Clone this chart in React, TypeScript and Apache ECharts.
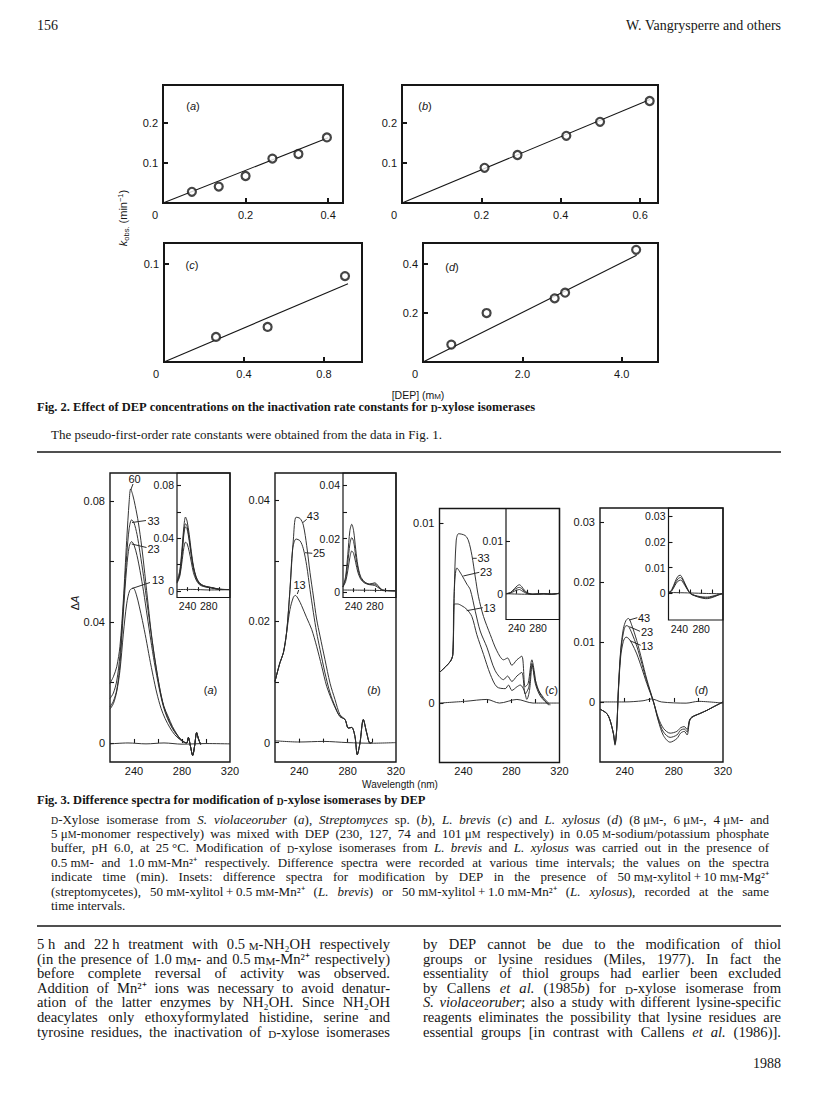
import React, { useEffect, useRef } from 'react';
import * as echarts from 'echarts';

/* ================= Fig. 2 data (k_obs vs [DEP]) ================= */
const fig2aDEP = [0.07, 0.135, 0.2, 0.265, 0.328, 0.397];
const fig2aKobs = [0.028, 0.041, 0.0675, 0.111, 0.1225, 0.164];
const fig2aFit = [[0, 0], [0.4, 0.163]];
const fig2bDEP = [0.208, 0.291, 0.414, 0.499, 0.624];
const fig2bKobs = [0.088, 0.12, 0.168, 0.203, 0.255];
const fig2bFit = [[0, 0], [0.625, 0.259]];
const fig2cDEP = [0.26, 0.518, 0.905];
const fig2cKobs = [0.0256, 0.0358, 0.0877];
const fig2cFit = [[0, 0], [0.92, 0.08]];
const fig2dDEP = [0.57, 1.28, 2.65, 2.86, 4.29];
const fig2dKobs = [0.071, 0.2, 0.26, 0.283, 0.458];
const fig2dFit = [[0, 0], [4.3, 0.436]];

const fig2aXTicks = [0, 0.2, 0.4];
const fig2aYTicks = [0.1, 0.2];
const fig2bXTicks = [0, 0.2, 0.4, 0.6];
const fig2bYTicks = [0.1, 0.2];
const fig2cXTicks = [0, 0.4, 0.8];
const fig2cYTicks = [0.1];
const fig2dXTicks = [0, 2, 4];
const fig2dYTicks = [0.2, 0.4];

/* ================= Fig. 3 data ([wavelength nm, ΔA]) ================= */
const f3aT60 = [[220,0.0197],[222.8,0.0219],[225.6,0.0252],[228.3,0.032],[231.1,0.047],[233.9,0.067],[236,0.08],[237.2,0.084],[239,0.082],[241,0.0785],[243.6,0.073],[246.4,0.065],[249,0.056],[252,0.045],[254.5,0.036],[257.5,0.0275],[261.7,0.0175],[265,0.012],[268.6,0.0086],[272,0.0055],[275.6,0.003],[279,0.0012],[282,0.0003],[284,0],[285.3,0.0018],[287,-0.001],[288.9,-0.0041],[290.5,-0.001],[292.2,0.0034],[293.6,0.0015],[295.5,-0.0005]];
const f3aT33 = [[220,0.0147],[222.8,0.0165],[225.6,0.0205],[228.3,0.029],[231.1,0.045],[233.9,0.062],[236,0.071],[238,0.0738],[240,0.0728],[242.5,0.069],[245,0.063],[248,0.055],[251,0.046],[254,0.037],[257,0.0285],[261,0.019],[264.5,0.0125],[268,0.0085],[272,0.005],[275.6,0.0028],[279,0.0011],[282,0.0002],[284,0],[285.3,0.0018],[287,-0.001],[288.9,-0.0041],[290.5,-0.001],[292.2,0.0034],[293.6,0.0015],[295.5,-0.0005]];
const f3aT23 = [[220,0.0119],[222.8,0.0138],[225.6,0.0175],[228.3,0.026],[231.1,0.043],[233.9,0.058],[236,0.065],[238,0.0666],[240,0.0655],[242.5,0.062],[245,0.057],[248,0.05],[251,0.042],[254,0.034],[257,0.0265],[261,0.018],[264.5,0.012],[268,0.008],[272,0.0048],[275.6,0.0027],[279,0.001],[282,0.0002],[284,0],[285.3,0.0018],[287,-0.001],[288.9,-0.0041],[290.5,-0.001],[292.2,0.0034],[293.6,0.0015],[295.5,-0.0005]];
const f3aT13 = [[220,0.0112],[222.8,0.013],[225.6,0.017],[228.3,0.024],[231.1,0.036],[233.9,0.046],[236.5,0.0505],[239.4,0.0512],[242,0.049],[244.5,0.045],[247,0.0405],[250,0.0345],[253,0.028],[256,0.022],[259,0.0165],[262.5,0.0115],[266,0.008],[270,0.005],[274,0.0027],[278,0.0012],[282,0.0002],[284,0],[285.3,0.0018],[287,-0.001],[288.9,-0.0041],[290.5,-0.001],[292.2,0.0034],[293.6,0.0015],[295.5,-0.0005]];
const f3aBase = [[220,-0.0003],[235,0],[250,-0.0003],[265,0],[280,-0.0004],[300,-0.0002],[320,-0.0003]];
const f3aIns1 = [[220,0.008],[225,0.015],[229,0.03],[233,0.049],[236,0.056],[239,0.053],[243,0.043],[247,0.03],[251,0.019],[256,0.011],[262,0.0065],[270,0.0042],[280,0.0032],[290,0.0024],[300,0.0015],[320,0.0012]];
const f3aIns2 = [[220,0.007],[225,0.013],[229,0.027],[233,0.045],[236,0.051],[239,0.049],[243,0.04],[247,0.028],[251,0.018],[256,0.0105],[262,0.006],[270,0.004],[280,0.003],[290,0.0022],[300,0.0014],[320,0.0012]];
const f3aIns3 = [[220,0.0065],[225,0.012],[229,0.025],[233,0.043],[236,0.0485],[239,0.047],[243,0.038],[247,0.027],[251,0.017],[256,0.01],[262,0.0058],[270,0.0038],[280,0.0029],[290,0.0021],[300,0.0014],[320,0.0012]];
const f3aIns4 = [[220,0.006],[225,0.011],[229,0.021],[233,0.033],[236,0.037],[239,0.036],[243,0.03],[247,0.022],[251,0.014],[256,0.0085],[262,0.005],[270,0.0035],[280,0.0027],[290,0.002],[300,0.0013],[320,0.0012]];
const f3aInsBase = [[220,0.0012],[250,0.0013],[280,0.0009],[320,0.0011]];

const f3bT43 = [[220,0.0101],[224.1,0.0132],[226.9,0.0148],[229.6,0.0182],[232.4,0.0253],[235.2,0.0336],[237.4,0.0372],[240.7,0.037],[243.4,0.0359],[246.2,0.0325],[248.9,0.0281],[251.7,0.0242],[254.4,0.0204],[257.2,0.0176],[261.3,0.0137],[265.5,0.0098],[269.6,0.0071],[273.7,0.0046],[277.9,0.0038],[280.6,0.0024],[283.4,0.0025],[286.1,0.001],[288,-0.002],[290.2,-0.0001],[293,0.0038],[295.8,0.0016],[298.5,-0.0001],[300,0]];
const f3bT25 = [[220,0.0101],[224.1,0.0132],[226.9,0.0148],[229.6,0.0182],[232.4,0.0253],[234.6,0.032],[237.4,0.0336],[240.7,0.0333],[243.4,0.032],[246.2,0.0292],[248.9,0.0253],[251.7,0.0215],[254.4,0.0182],[257.2,0.0154],[261.3,0.0115],[265.5,0.0082],[269.6,0.006],[273.7,0.0043],[277.9,0.0038],[280.6,0.0024],[283.4,0.0025],[286.1,0.001],[288,-0.002],[290.2,-0.0001],[293,0.0038],[295.8,0.0016],[298.5,-0.0001],[300,0]];
const f3bT13 = [[220,0.0101],[224.1,0.0132],[226.9,0.0148],[229.6,0.0182],[232.4,0.022],[235.2,0.024],[236.8,0.0243],[239.3,0.0237],[242,0.0226],[246.2,0.0206],[250.3,0.0187],[254.4,0.0159],[258.6,0.0126],[262.7,0.0093],[266.8,0.0071],[271,0.0052],[273.7,0.0043],[277.9,0.0038],[280.6,0.0024],[283.4,0.0025],[286.1,0.001],[288,-0.002],[290.2,-0.0001],[293,0.0038],[295.8,0.0016],[298.5,-0.0001],[300,0]];
const f3bBase = [[220,0.0003],[240,0.0001],[260,0.0002],[280,0],[300,-0.0001],[320,0]];
const f3bIns1 = [[220,0.002],[225,0.006],[229,0.014],[233,0.023],[236.5,0.0254],[240,0.023],[244,0.016],[248,0.01],[253,0.006],[260,0.004],[270,0.003],[280,0.0035],[288,0.002],[295,0.0008],[320,0.0005]];
const f3bIns2 = [[220,0.002],[225,0.005],[229,0.011],[233,0.018],[236.5,0.0204],[240,0.019],[244,0.0135],[248,0.009],[253,0.0055],[260,0.0038],[270,0.003],[280,0.003],[288,0.0018],[295,0.0008],[320,0.0005]];
const f3bIns3 = [[220,0.002],[225,0.004],[229,0.008],[233,0.013],[236.5,0.0154],[240,0.0145],[244,0.011],[248,0.0075],[253,0.005],[260,0.0035],[270,0.0028],[280,0.0025],[288,0.0015],[295,0.0006],[320,0.0005]];
const f3bInsBase = [[220,0.0008],[270,0.0007],[320,0.0005]];

const f3cT33 = [[220,0.0017],[228.9,0.0023],[231.1,0.0027],[232.3,0.0062],[233.9,0.009],[235.9,0.0094],[241.4,0.0093],[244.2,0.009],[247,0.0082],[249.8,0.007],[252.5,0.0059],[256.7,0.0048],[262.3,0.0038],[267.8,0.0029],[273.4,0.0024],[276.7,0.0025],[280.3,0.0021],[284.5,0.0024],[288.6,0.0026],[291.4,0.0009],[293.9,0.0011],[297,0.0024],[298.9,0.0018],[301.1,0.0009],[306.7,0.0003],[312.3,-0.0001]];
const f3cT23 = [[220,0.0017],[228.9,0.0023],[231.1,0.0027],[232.3,0.0062],[234.5,0.0075],[238.6,0.0071],[242.8,0.0066],[245.6,0.0063],[249.8,0.0051],[253.9,0.004],[259.5,0.0031],[266.4,0.0018],[273.4,0.0013],[276.7,0.0015],[280.3,0.0012],[284.5,0.0015],[288.6,0.0017],[291.4,0.0005],[294.5,0.0009],[297,0.0022],[299.8,0.0013],[303.9,0.0005],[309.5,0],[311.7,-0.0001]];
const f3cT13 = [[220,0.0017],[228.9,0.0023],[231.1,0.0027],[232.3,0.0055],[235,0.0055],[238.6,0.0054],[242.8,0.0052],[247,0.0048],[251.1,0.0038],[256.7,0.0027],[262.3,0.0016],[267.8,0.0009],[274.8,0.0008],[277.5,0.001],[280.3,0.0007],[284.5,0.0009],[287.3,0.001],[290.6,0.0007],[292.8,0.0002],[295,0.0007],[297.3,0.0021],[299.8,0.0011],[303.9,0.0004],[310.9,-0.0001]];
const f3cBase = [[220,0],[242,0.0001],[259.5,0.0002],[270,0],[284.5,0.0002],[298,0],[320,0]];
const f3cIns1 = [[220,0],[228,0.0002],[236,0.001],[241,0.0015],[245,0.0017],[249,0.0014],[254,0.0007],[260,0.0002],[270,-0.0001],[290,0],[305,-0.0001],[320,0.0001]];
const f3cIns2 = [[220,0],[228,0.0002],[236,0.0008],[241,0.0011],[245,0.0012],[249,0.001],[254,0.0005],[260,0.0001],[270,-0.0001],[290,0],[305,-0.0001],[320,0.0001]];
const f3cIns3 = [[220,0],[228,0.0001],[236,0.0005],[241,0.0007],[245,0.0008],[249,0.0006],[254,0.0003],[260,0],[270,-0.0001],[290,0],[305,-0.0001],[320,0.0001]];
const f3cInsBase = [[220,0],[260,-0.0001],[320,0]];

const f3dT43 = [[220,-0.0012],[225.4,-0.0019],[228.1,-0.003],[230.9,-0.0053],[232.2,-0.0072],[233.6,-0.0045],[234.9,0.002],[236.8,0.0086],[239,0.0122],[241.2,0.0136],[243.1,0.0139],[245.8,0.0128],[249.9,0.0102],[254,0.007],[258,0.0038],[263.5,0],[267.5,-0.0032],[271.6,-0.0056],[277,-0.0067],[282.5,-0.0061],[285.5,-0.0052],[288.5,-0.0049],[290.8,-0.0055],[292.8,-0.0032],[294.7,-0.0026],[301.5,-0.0019],[306.9,-0.0014],[312.4,-0.0008],[320,0]];
const f3dT23 = [[220,-0.0012],[225.4,-0.0019],[228.1,-0.003],[230.9,-0.0053],[232.2,-0.007],[233.6,-0.0045],[234.9,0.0018],[236.8,0.0082],[239,0.0115],[241.2,0.0127],[243.1,0.0126],[245.8,0.0115],[249.9,0.0093],[254,0.0064],[258,0.0035],[263.5,0],[267.5,-0.003],[271.6,-0.005],[277,-0.0059],[282.5,-0.0055],[285.5,-0.0047],[288.5,-0.0045],[290.8,-0.005],[292.8,-0.0031],[294.7,-0.0025],[301.5,-0.0019],[306.9,-0.0014],[312.4,-0.0008],[320,0]];
const f3dT13 = [[220,-0.0012],[225.4,-0.0019],[228.1,-0.003],[230.9,-0.0052],[232.2,-0.0068],[233.6,-0.0045],[234.9,0.0015],[236.8,0.0075],[239,0.0101],[241.2,0.0108],[243.1,0.0106],[245.8,0.0098],[249.9,0.008],[254,0.0056],[258,0.0031],[263.5,0],[267.5,-0.0027],[271.6,-0.0044],[277,-0.0052],[282.5,-0.0049],[285.5,-0.0043],[288.5,-0.0041],[290.8,-0.0046],[292.8,-0.003],[294.7,-0.0025],[301.5,-0.0019],[306.9,-0.0014],[312.4,-0.0008],[320,0]];
const f3dBase = [[220,0],[240,0],[255,0.0002],[262,0.0005],[270,0],[290,-0.0002],[300,0.0001],[320,-0.0002]];
const f3dIns1 = [[220,0.0002],[226,0.0015],[232,0.0045],[237,0.0066],[241.5,0.0071],[245,0.0062],[250,0.004],[255,0.0018],[260,0],[268,-0.0009],[278,-0.0016],[288,-0.002],[295,-0.0019],[305,-0.0012],[312,-0.0006],[320,0]];
const f3dIns2 = [[220,0.0002],[226,0.0012],[232,0.0038],[237,0.0056],[242,0.0062],[245,0.0056],[250,0.0036],[255,0.0016],[260,0],[268,-0.0008],[278,-0.0014],[288,-0.0017],[295,-0.0016],[305,-0.001],[312,-0.0005],[320,0]];
const f3dIns3 = [[220,0.0002],[226,0.001],[232,0.0032],[237,0.0047],[242,0.0052],[245,0.0048],[250,0.0031],[255,0.0014],[260,0],[268,-0.0007],[278,-0.0012],[288,-0.0014],[295,-0.0013],[305,-0.0008],[312,-0.0004],[320,0]];
const f3dInsBase = [[220,0.0004],[260,0.0002],[290,0],[320,-0.0001]];

const f3XLabels = [240, 280, 320];
const f3XTicks = [240, 260, 280, 300];
const f3InsXLabels = [240, 280];
const f3aYLabels = [0, 0.04, 0.08];
const f3aYTicks = [0, 0.02, 0.04, 0.06, 0.08];
const f3bYLabels = [0, 0.02, 0.04];
const f3bYTicks = [0, 0.01, 0.02, 0.03, 0.04];
const f3cYLabels = [0, 0.01];
const f3dYLabels = [0, 0.01, 0.02, 0.03];

/* ================= text ================= */
const fig2Title = 'Fig. 2. Effect of DEP concentrations on the inactivation rate constants for {sc|D}-xylose isomerases';
const fig2Note = 'The pseudo-first-order rate constants were obtained from the data in Fig. 1.';
const fig3Title = 'Fig. 3. Difference spectra for modification of {sc|D}-xylose isomerases by DEP';
const fig3Legend = [
  '{sc|D}-Xylose isomerase from {i|S. violaceoruber} ({i|a}), {i|Streptomyces} sp. ({i|b}), {i|L. brevis} ({i|c}) and {i|L. xylosus} ({i|d}) (8\u00a0μ{sc|M}-, 6\u00a0μ{sc|M}-, 4\u00a0μ{sc|M}- and',
  '5\u00a0μ{sc|M}-monomer respectively) was mixed with DEP (230, 127, 74 and 101\u00a0μ{sc|M} respectively) in 0.05\u00a0{sc|M}-sodium/potassium phosphate',
  'buffer, pH 6.0, at 25\u00a0°C. Modification of {sc|D}-xylose isomerases from {i|L. brevis} and {i|L. xylosus} was carried out in the presence of',
  '0.5\u00a0m{sc|M}- and 1.0\u00a0m{sc|M}-Mn²⁺ respectively. Difference spectra were recorded at various time intervals; the values on the spectra',
  'indicate time (min). Insets: difference spectra for modification by DEP in the presence of 50\u00a0m{sc|M}-xylitol\u2009+\u200910\u00a0m{sc|M}-Mg²⁺',
  '(streptomycetes), 50\u00a0m{sc|M}-xylitol\u2009+\u20090.5\u00a0m{sc|M}-Mn²⁺ ({i|L. brevis}) or 50\u00a0m{sc|M}-xylitol\u2009+\u20091.0\u00a0m{sc|M}-Mn²⁺ ({i|L. xylosus}), recorded at the same',
  'time intervals.',
];
const bodyCol1 = [
  '5\u00a0h and 22\u00a0h treatment with 0.5\u00a0{sc|M}-NH₂OH respectively',
  '(in the presence of 1.0\u00a0m{sc|M}- and 0.5\u00a0m{sc|M}-Mn²⁺ respectively)',
  'before complete reversal of activity was observed.',
  'Addition of Mn²⁺ ions was necessary to avoid denatur-',
  'ation of the latter enzymes by NH₂OH. Since NH₂OH',
  'deacylates only ethoxyformylated histidine, serine and',
  'tyrosine residues, the inactivation of {sc|D}-xylose isomerases',
];
const bodyCol2 = [
  'by DEP cannot be due to the modification of thiol',
  'groups or lysine residues (Miles, 1977). In fact the',
  'essentiality of thiol groups had earlier been excluded',
  'by Callens {i|et al.} (1985{i|b}) for {sc|D}-xylose isomerase from',
  '{i|S. violaceoruber}; also a study with different lysine-specific',
  'reagents eliminates the possibility that lysine residues are',
  'essential groups [in contrast with Callens {i|et al.} (1986)].',
];

const SANS = '"Liberation Sans", Arial, Helvetica, sans-serif';
const SERIF = '"Liberation Serif", "Times New Roman", Times, serif';
const INK = '#161616';
const CURVE = '#2a2a2a';
const LM = 37; // page text block
const RM = 781;

let mctx: CanvasRenderingContext2D | null = null;
function textWidth(t: string, font: string): number {
  if (!mctx) mctx = document.createElement('canvas').getContext('2d');
  mctx!.font = font;
  return mctx!.measureText(t).width;
}
type Seg = { t: string; s: string };
function parseMarkup(line: string): Seg[] {
  const segs: Seg[] = [];
  const re = /\{(\w+)\|([^}]*)\}/g;
  let last = 0;
  let m: RegExpExecArray | null;
  while ((m = re.exec(line))) {
    if (m.index > last) segs.push({ t: line.slice(last, m.index), s: 'n' });
    segs.push({ t: m[2], s: m[1] });
    last = re.lastIndex;
  }
  if (last < line.length) segs.push({ t: line.slice(last), s: 'n' });
  return segs;
}
function splitWords(segs: Seg[]): Seg[][] {
  const out: Seg[][] = [];
  let cur: Seg[] = [];
  segs.forEach((sg) => {
    sg.t.split(' ').forEach((p, i) => {
      if (i > 0) {
        if (cur.length) out.push(cur);
        cur = [];
      }
      if (p) cur.push({ t: p, s: sg.s });
    });
  });
  if (cur.length) out.push(cur);
  return out;
}
function serifRich(fs: number, weight: string) {
  const base: any = { fontFamily: SERIF, fontSize: fs, fontWeight: weight, fontStyle: 'normal', fill: INK, verticalAlign: 'bottom' };
  return { n: base, i: { ...base, fontStyle: 'italic' }, sc: { ...base, fontSize: +(fs * 0.76).toFixed(1) } } as any;
}
const cssFont = (st: any) => `${st.fontStyle} ${st.fontWeight} ${st.fontSize}px ${SERIF}`;

function proseLine(line: string, x0: number, x1: number | null, y: number, fs0: number, weight = 'normal', align = 'left'): any[] {
  const ws = splitWords(parseMarkup(line));
  const measureAll = (fs: number) => {
    const rich = serifRich(fs, weight);
    const widths = ws.map((w) => w.reduce((a, sg) => a + textWidth(sg.t, cssFont(rich[sg.s] || rich.n)), 0));
    return { rich, widths, total: widths.reduce((a, b) => a + b, 0), space: textWidth(' ', cssFont(rich.n)) };
  };
  let fs = fs0;
  let m = measureAll(fs);
  if (x1 != null && ws.length > 1) {
    const need = m.total + (ws.length - 1) * fs * 0.2;
    if (need > x1 - x0) {
      fs = +(fs * (x1 - x0) / need).toFixed(2);
      m = measureAll(fs);
    }
  }
  let gap = m.space;
  if (x1 != null && ws.length > 1) gap = (x1 - x0 - m.total) / (ws.length - 1);
  let x = align === 'right' ? x0 - (m.total + m.space * (ws.length - 1)) : x0;
  const els: any[] = [];
  ws.forEach((w, k) => {
    els.push({
      type: 'text', x, y, silent: true,
      style: { text: w.map((sg) => `{${sg.s}|${sg.t}}`).join(''), rich: m.rich, align: 'left', verticalAlign: 'middle' },
    });
    x += m.widths[k] + gap;
  });
  return els;
}

function sansText(text: string, x: number, y: number, fs: number, align = 'center', extra: any = {}, rotation = 0): any {
  const base = { fontFamily: SANS, fontSize: fs, fill: INK, verticalAlign: 'middle' };
  return {
    type: 'text', x, y, rotation, silent: true,
    style: {
      text, align, verticalAlign: 'middle', fontFamily: SANS, fontSize: fs, fill: INK,
      rich: { n: base, i: { ...base, fontStyle: 'italic' }, ...extra },
    },
  };
}
const seg = (x1: number, y1: number, x2: number, y2: number, w = 0.9): any => ({
  type: 'line', silent: true, shape: { x1, y1, x2, y2 }, style: { stroke: INK, lineWidth: w },
});

const zip = (xs: number[], ys: number[]) => xs.map((x, i) => [x, ys[i]]);

function buildOption() {
  const grids = [
    { left: 163, top: 85, width: 180, height: 118, bw: 2 },
    { left: 402, top: 85, width: 256, height: 118, bw: 2 },
    { left: 164, top: 243, width: 198, height: 119, bw: 2 },
    { left: 423, top: 243, width: 235, height: 119, bw: 2 },
    { left: 110, top: 473, width: 120, height: 289, bw: 1.4 },
    { left: 177, top: 473, width: 53, height: 124.5, bw: 1.2 },
    { left: 275, top: 473, width: 121, height: 289, bw: 1.4 },
    { left: 343, top: 473, width: 53, height: 124.5, bw: 1.2 },
    { left: 439.5, top: 508.5, width: 120, height: 254, bw: 1.4 },
    { left: 506, top: 508.5, width: 53.5, height: 111, bw: 1.2 },
    { left: 600, top: 508, width: 123, height: 254, bw: 1.4 },
    { left: 668.5, top: 508, width: 54.5, height: 112, bw: 1.2 },
  ];
  const f2fmt = (d: number) => (v: number) => (v === 0 ? '{z|0}' : v.toFixed(d));
  const zRich = { z: { padding: [0, 16, 0, 0], fontFamily: SANS, fontSize: 11, color: INK } };
  type AxSpec = { min: number; max: number; labels: number[]; ticks: number[]; fmt?: any; rich?: any };
  const axes: { x: AxSpec; y: AxSpec; kind: string }[] = [
    { kind: 'f2', x: { min: 0, max: 0.436, labels: fig2aXTicks, ticks: fig2aXTicks.slice(1), fmt: f2fmt(1), rich: zRich }, y: { min: 0, max: 0.295, labels: fig2aYTicks, ticks: fig2aYTicks } },
    { kind: 'f2', x: { min: 0, max: 0.645, labels: fig2bXTicks, ticks: fig2bXTicks.slice(1), fmt: f2fmt(1), rich: zRich }, y: { min: 0, max: 0.295, labels: fig2bYTicks, ticks: fig2bYTicks } },
    { kind: 'f2', x: { min: 0, max: 0.99, labels: fig2cXTicks, ticks: fig2cXTicks.slice(1), fmt: f2fmt(1), rich: zRich }, y: { min: 0, max: 0.1215, labels: fig2cYTicks, ticks: fig2cYTicks } },
    { kind: 'f2', x: { min: 0, max: 4.73, labels: fig2dXTicks, ticks: fig2dXTicks.slice(1), fmt: f2fmt(1), rich: zRich }, y: { min: 0, max: 0.486, labels: fig2dYTicks, ticks: fig2dYTicks } },
    { kind: 'f3', x: { min: 220, max: 320, labels: f3XLabels, ticks: f3XTicks }, y: { min: -0.0063, max: 0.0893, labels: f3aYLabels, ticks: f3aYTicks } },
    { kind: 'in', x: { min: 220, max: 320, labels: f3InsXLabels, ticks: f3XTicks }, y: { min: -0.0048, max: 0.0893, labels: f3aYLabels, ticks: f3aYTicks } },
    { kind: 'f3', x: { min: 220, max: 320, labels: f3XLabels, ticks: f3XTicks }, y: { min: -0.0032, max: 0.0445, labels: f3bYLabels, ticks: f3bYTicks } },
    { kind: 'in', x: { min: 220, max: 320, labels: f3InsXLabels, ticks: f3XTicks }, y: { min: -0.002, max: 0.0446, labels: f3bYLabels, ticks: f3bYTicks } },
    { kind: 'f3', x: { min: 220, max: 320, labels: f3XLabels, ticks: f3XTicks }, y: { min: -0.0033, max: 0.0108, labels: f3cYLabels, ticks: f3cYLabels } },
    { kind: 'in', x: { min: 220, max: 320, labels: f3InsXLabels, ticks: f3XTicks }, y: { min: -0.0049, max: 0.0162, labels: f3cYLabels, ticks: f3cYLabels } },
    { kind: 'f3', x: { min: 220, max: 320, labels: f3XLabels, ticks: f3XTicks }, y: { min: -0.01, max: 0.0323, labels: f3dYLabels, ticks: f3dYLabels } },
    { kind: 'in', x: { min: 220, max: 320, labels: f3InsXLabels, ticks: f3XTicks }, y: { min: -0.0103, max: 0.0332, labels: f3dYLabels, ticks: f3dYLabels } },
  ];
  const mk = (dim: string, gi: number, s: AxSpec, kind: string) => {
    const f2 = kind === 'f2';
    return {
      type: 'value', gridIndex: gi, min: s.min, max: s.max,
      splitLine: { show: false }, axisLine: { show: false },
      axisTick: { show: true, inside: true, length: f2 ? 5 : 4, lineStyle: { color: INK, width: f2 ? 2 : 1.1 }, customValues: s.ticks },
      axisLabel: {
        show: true, customValues: s.labels, hideOverlap: false,
        margin: dim === 'x' ? (f2 ? 6 : 3) : (f2 ? 5 : kind === 'in' ? 3 : 5),
        fontFamily: SANS, fontSize: kind === 'in' ? 10.5 : 11, color: INK,
        formatter: s.fmt, rich: s.rich,
      },
    };
  };
  const xAxis = axes.map((a, i) => mk('x', i, a.x, a.kind));
  const yAxis = axes.map((a, i) => mk('y', i, a.y, a.kind));

  const series: any[] = [];
  const f2sets = [
    { pts: zip(fig2aDEP, fig2aKobs), fit: fig2aFit },
    { pts: zip(fig2bDEP, fig2bKobs), fit: fig2bFit },
    { pts: zip(fig2cDEP, fig2cKobs), fit: fig2cFit },
    { pts: zip(fig2dDEP, fig2dKobs), fit: fig2dFit },
  ];
  f2sets.forEach((p, i) => {
    series.push({ type: 'line', xAxisIndex: i, yAxisIndex: i, data: p.fit, symbol: 'none', silent: true, z: 2, lineStyle: { color: INK, width: 1.1 } });
    series.push({ type: 'scatter', xAxisIndex: i, yAxisIndex: i, data: p.pts, symbol: 'circle', symbolSize: 8, silent: true, z: 3, itemStyle: { color: '#fff', borderColor: INK, borderWidth: 2.2 } });
  });
  const curves: [number, number[][]][] = [
    [4, f3aT60], [4, f3aT33], [4, f3aT23], [4, f3aT13], [4, f3aBase],
    [5, f3aIns1], [5, f3aIns2], [5, f3aIns3], [5, f3aIns4], [5, f3aInsBase],
    [6, f3bT43], [6, f3bT25], [6, f3bT13], [6, f3bBase],
    [7, f3bIns1], [7, f3bIns2], [7, f3bIns3], [7, f3bInsBase],
    [8, f3cT33], [8, f3cT23], [8, f3cT13], [8, f3cBase],
    [9, f3cIns1], [9, f3cIns2], [9, f3cIns3], [9, f3cInsBase],
    [10, f3dT43], [10, f3dT23], [10, f3dT13], [10, f3dBase],
    [11, f3dIns1], [11, f3dIns2], [11, f3dIns3], [11, f3dInsBase],
  ];
  curves.forEach(([gi, data]) => {
    series.push({ type: 'line', xAxisIndex: gi, yAxisIndex: gi, data, symbol: 'none', smooth: 0.3, silent: true, lineStyle: { color: CURVE, width: 0.95 } });
  });

  const g: any[] = [];
  // page header
  g.push(...proseLine('156', LM, null, 25, 14));
  g.push(...proseLine('W. Vangrysperre and others', RM, null, 25, 14, 'normal', 'right'));
  // Fig. 2 labels
  g.push(sansText('({i|a})', 193, 106, 11), sansText('({i|b})', 425, 106, 11), sansText('({i|c})', 192, 265, 11), sansText('({i|d})', 452, 267, 11));
  g.push(sansText('{i|k}{s|obs.} (min{p|−1})', 123, 218, 11, 'center', {
    n: { fontFamily: SANS, fontSize: 11, fill: INK, verticalAlign: 'middle', lineHeight: 14 },
    i: { fontFamily: SANS, fontSize: 11, fill: INK, fontStyle: 'italic', verticalAlign: 'middle', lineHeight: 14 },
    s: { fontFamily: SANS, fontSize: 7.5, fill: INK, verticalAlign: 'bottom', lineHeight: 14 },
    p: { fontFamily: SANS, fontSize: 7.5, fill: INK, verticalAlign: 'top', lineHeight: 14 },
  }, Math.PI / 2));
  g.push(sansText('[DEP] (m{sc|M})', 418, 395, 10.5, 'center', { sc: { fontFamily: SANS, fontSize: 8, fill: INK, verticalAlign: 'bottom' } }));
  g.push(...proseLine(fig2Title, LM, null, 407, 12.5, 'bold'));
  g.push(...proseLine(fig2Note, LM + 14, null, 434, 13));
  g.push(seg(LM, 452, RM, 452, 1.6));
  // Fig. 3 labels
  g.push(sansText('{n|Δ}{i|A}', 75, 603, 11, 'center', {}, Math.PI / 2));
  g.push(sansText('Wavelength (nm)', 400, 784, 10));
  g.push(sansText('({i|a})', 210.5, 689.5, 11), sansText('({i|b})', 374, 689.5, 11), sansText('({i|c})', 551.5, 689.5, 11), sansText('({i|d})', 701.5, 690, 11));
  const ann: [string, number, number, number[]][] = [
    ['60', 128.5, 478.5, [130.7, 490, 133, 484]],
    ['33', 147.5, 520.7, [132, 522.5, 146, 520.5]],
    ['23', 147.5, 548.5, [131.7, 544, 146.5, 547.5]],
    ['13', 152, 580, [132, 588.5, 150, 582.5]],
    ['43', 306.8, 516, [302.7, 522.7, 306.7, 519.3]],
    ['25', 313, 553.3, [305, 552.7, 312.3, 553.3]],
    ['13', 293.5, 585, [297.3, 594, 298.7, 590]],
    ['33', 477.5, 558.3, [472.7, 558.3, 476.7, 558.3]],
    ['23', 480, 571.7, [463.3, 576, 479.3, 572.3]],
    ['13', 483.5, 608.3, [466.7, 610.7, 482.7, 607.7]],
    ['43', 638, 617.7, [629.3, 620, 637.3, 617.7]],
    ['23', 641, 631.7, [629.3, 626.7, 640, 631.3]],
    ['13', 641, 645.7, [630, 640.7, 640.7, 645.3]],
  ];
  ann.forEach(([t, x, y, l]) => {
    g.push(sansText(t, x, y, 11, 'left'));
    g.push(seg(l[0], l[1], l[2], l[3], 0.9));
  });
  g.push(...proseLine(fig3Title, LM, null, 800, 12.5, 'bold'));
  fig3Legend.forEach((ln, i) => {
    const last = i === fig3Legend.length - 1;
    g.push(...proseLine(ln, LM + 14, last ? null : RM - 12, 819 + i * 14.4, 13));
  });
  g.push(seg(LM, 926, RM, 926, 1.6));
  bodyCol1.forEach((ln, i) => g.push(...proseLine(ln, LM, 390, 944 + i * 14.6, 14.6)));
  bodyCol2.forEach((ln, i) => g.push(...proseLine(ln, 423, RM, 944 + i * 14.6, 14.6)));
  g.push(...proseLine('1988', RM, null, 1063, 14, 'normal', 'right'));

  return {
    animation: false,
    backgroundColor: '#ffffff',
    grid: grids.map((b) => ({ left: b.left, top: b.top, width: b.width, height: b.height, show: true, borderColor: INK, borderWidth: b.bw, backgroundColor: 'transparent', containLabel: false, outerBoundsMode: 'none' })),
    xAxis,
    yAxis,
    series,
    graphic: { elements: g },
  };
}

export default function App() {
  const ref = useRef<HTMLDivElement>(null);
  useEffect(() => {
    document.body.style.margin = '0';
    const chart = echarts.init(ref.current!, null, { renderer: 'svg' });
    chart.setOption(buildOption() as any);
    return () => chart.dispose();
  }, []);
  return <div ref={ref} style={{ width: 816, height: 1100, background: '#fff' }} />;
}
